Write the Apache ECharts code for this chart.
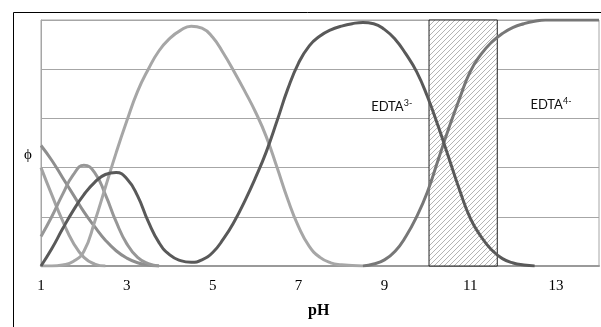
<!DOCTYPE html>
<html><head><meta charset="utf-8">
<script src="https://cdn.jsdelivr.net/npm/echarts@6/dist/echarts.min.js"></script>
<style>html,body{margin:0;padding:0;background:#fff}#c{width:601px;height:327px}</style>
</head><body><div id="c"></div>
<script>
// pH sample points
const pH = [1,1.25,1.5,1.75,2,2.25,2.5,2.75,3,3.25,3.5,3.75,4,4.25,4.5,4.75,5,5.25,5.5,5.75,6,6.25,6.5,6.75,7,7.25,7.5,7.75,8,8.25,8.5,8.75,9,9.25,9.5,9.75,10,10.25,10.5,10.75,11,11.25,11.5,11.75,12,12.25,12.5,12.75,13,13.25,13.5,13.75,14];
const N = null;
// H6Y2+ (fast falling, light)
const fracH6Y = [0.40,0.29,0.185,0.095,0.035,0.008,0,N,N,N,N,N,N,N,N,N,N,N,N,N,N,N,N,N,N,N,N,N,N,N,N,N,N,N,N,N,N,N,N,N,N,N,N,N,N,N,N,N,N,N,N,N,N];
// H5Y+ (slow falling)
const fracH5Y = [0.49,0.43,0.36,0.29,0.22,0.16,0.105,0.062,0.032,0.013,0.004,0,N,N,N,N,N,N,N,N,N,N,N,N,N,N,N,N,N,N,N,N,N,N,N,N,N,N,N,N,N,N,N,N,N,N,N,N,N,N,N,N,N];
// H4Y (peak near pH 2)
const fracH4Y = [0.12,0.20,0.29,0.37,0.41,0.38,0.29,0.18,0.09,0.035,0.01,0,N,N,N,N,N,N,N,N,N,N,N,N,N,N,N,N,N,N,N,N,N,N,N,N,N,N,N,N,N,N,N,N,N,N,N,N,N,N,N,N,N];
// H2Y2- (large light peak near pH 4.5)
const fracH2Y = [0,0,0.004,0.018,0.06,0.18,0.32,0.46,0.59,0.71,0.80,0.875,0.925,0.958,0.975,0.967,0.93,0.865,0.79,0.71,0.625,0.525,0.40,0.27,0.16,0.08,0.035,0.013,0.005,0.002,0,N,N,N,N,N,N,N,N,N,N,N,N,N,N,N,N,N,N,N,N,N,N];
// dark curve: H3Y- then HY3-
const fracDark = [0,0.07,0.15,0.225,0.29,0.34,0.372,0.38,0.355,0.285,0.18,0.095,0.045,0.022,0.015,0.025,0.055,0.11,0.18,0.265,0.36,0.465,0.59,0.72,0.825,0.895,0.935,0.96,0.975,0.985,0.99,0.985,0.962,0.922,0.862,0.79,0.69,0.57,0.44,0.31,0.195,0.12,0.065,0.03,0.012,0.004,0,N,N,N,N,N,N];
// Y4-
const fracY = [N,N,N,N,N,N,N,N,N,N,N,N,N,N,N,N,N,N,N,N,N,N,N,N,N,N,N,N,N,N,0,0.008,0.025,0.06,0.12,0.20,0.30,0.43,0.56,0.68,0.79,0.86,0.91,0.945,0.97,0.985,0.995,1,1,1,1,1,1];
const xTicks = [1,3,5,7,9,11,13];
const bufferRange = [10.04, 11.63];
const labelNames = ['EDTA', 'EDTA'];
const labelCharges = ['3-', '4-'];
const labelPH = [9.17, 12.88];
const labelPhi = [0.646, 0.655];
const xName = 'pH';
const yName = 'ϕ';

const pair = arr => pH.map((x, i) => [x, arr[i]]);

const pc = document.createElement('canvas'); pc.width = 5; pc.height = 5;
const g = pc.getContext('2d');
g.fillStyle = '#ffffff'; g.fillRect(0, 0, 5, 5);
g.strokeStyle = '#b4b4b4'; g.lineWidth = 1;
g.beginPath(); g.moveTo(0, 5); g.lineTo(5, 0); g.moveTo(-1, 1); g.lineTo(1, -1); g.moveTo(4, 6); g.lineTo(6, 4); g.stroke();

function lineSeries(name, arr, color, extra) {
  return Object.assign({
    name, type: 'line', data: pair(arr), showSymbol: false, smooth: 0.5,
    lineStyle: { color, width: 3 }, itemStyle: { color }, connectNulls: false, silent: true
  }, extra || {});
}

const chart = echarts.init(document.getElementById('c'), null, { renderer: 'canvas' });
chart.setOption({
  animation: false,
  backgroundColor: '#fff',
  grid: { left: 41, right: 2, top: 20, bottom: 61, show: true, borderColor: '#a6a6a6', borderWidth: 1 },
  xAxis: {
    type: 'value', min: 1, max: 14, interval: 2,
    axisLine: { show: true, onZero: false, lineStyle: { color: '#9a9a9a', width: 2 } },
    axisTick: { show: false }, splitLine: { show: false },
    axisLabel: { color: '#000', fontFamily: 'Liberation Serif', fontSize: 15, margin: 13,
      customValues: xTicks }
  },
  yAxis: {
    type: 'value', min: 0, max: 1, interval: 0.2,
    axisLine: { show: true, lineStyle: { color: '#a6a6a6', width: 1 } },
    axisTick: { show: false }, axisLabel: { show: false },
    splitLine: { lineStyle: { color: '#a6a6a6', width: 1 } }
  },
  graphic: [
    { type: 'rect', shape: { x: 13.5, y: 12.5, width: 800, height: 600 }, style: { fill: 'none', stroke: '#000', lineWidth: 1 }, silent: true },
    { type: 'text', left: 24, top: 148, style: { text: yName, fontFamily: 'Liberation Serif', fontSize: 15, fill: '#000' } },
    { type: 'text', left: 308, top: 303, style: { text: xName, fontFamily: 'Liberation Serif', fontSize: 16, fontWeight: 'bold', fill: '#000' } }
  ],
  series: [
    lineSeries('H6Y', fracH6Y, '#a3a3a3', {
      markArea: {
        silent: true, z: 1,
        itemStyle: { color: { image: pc, repeat: 'repeat' }, borderColor: '#222', borderWidth: 1 },
        data: [[{ xAxis: bufferRange[0], yAxis: 0 }, { xAxis: bufferRange[1], yAxis: 1 }]]
      }
    }),
    lineSeries('H5Y', fracH5Y, '#8e8e8e'),
    lineSeries('H4Y', fracH4Y, '#979797'),
    lineSeries('H2Y', fracH2Y, '#a6a6a6'),
    lineSeries('Y', fracY, '#777777'),
    lineSeries('dark', fracDark, '#595959', {
      markPoint: {
        symbol: 'circle', symbolSize: 0, silent: true,
        data: labelPH.map((x, i) => ({
          coord: [x, labelPhi[i]],
          label: {
            show: true, position: 'inside',
            formatter: '{a|' + labelNames[i] + '}{b|' + labelCharges[i] + '}',
            rich: {
              a: { fontFamily: 'Lato', fontSize: 13, color: '#111' },
              b: { fontFamily: 'Lato', fontSize: 9, color: '#111', verticalAlign: 'top', padding: [0, 0, 7, 0] }
            }
          }
        }))
      }
    })
  ]
});
</script></body></html>
